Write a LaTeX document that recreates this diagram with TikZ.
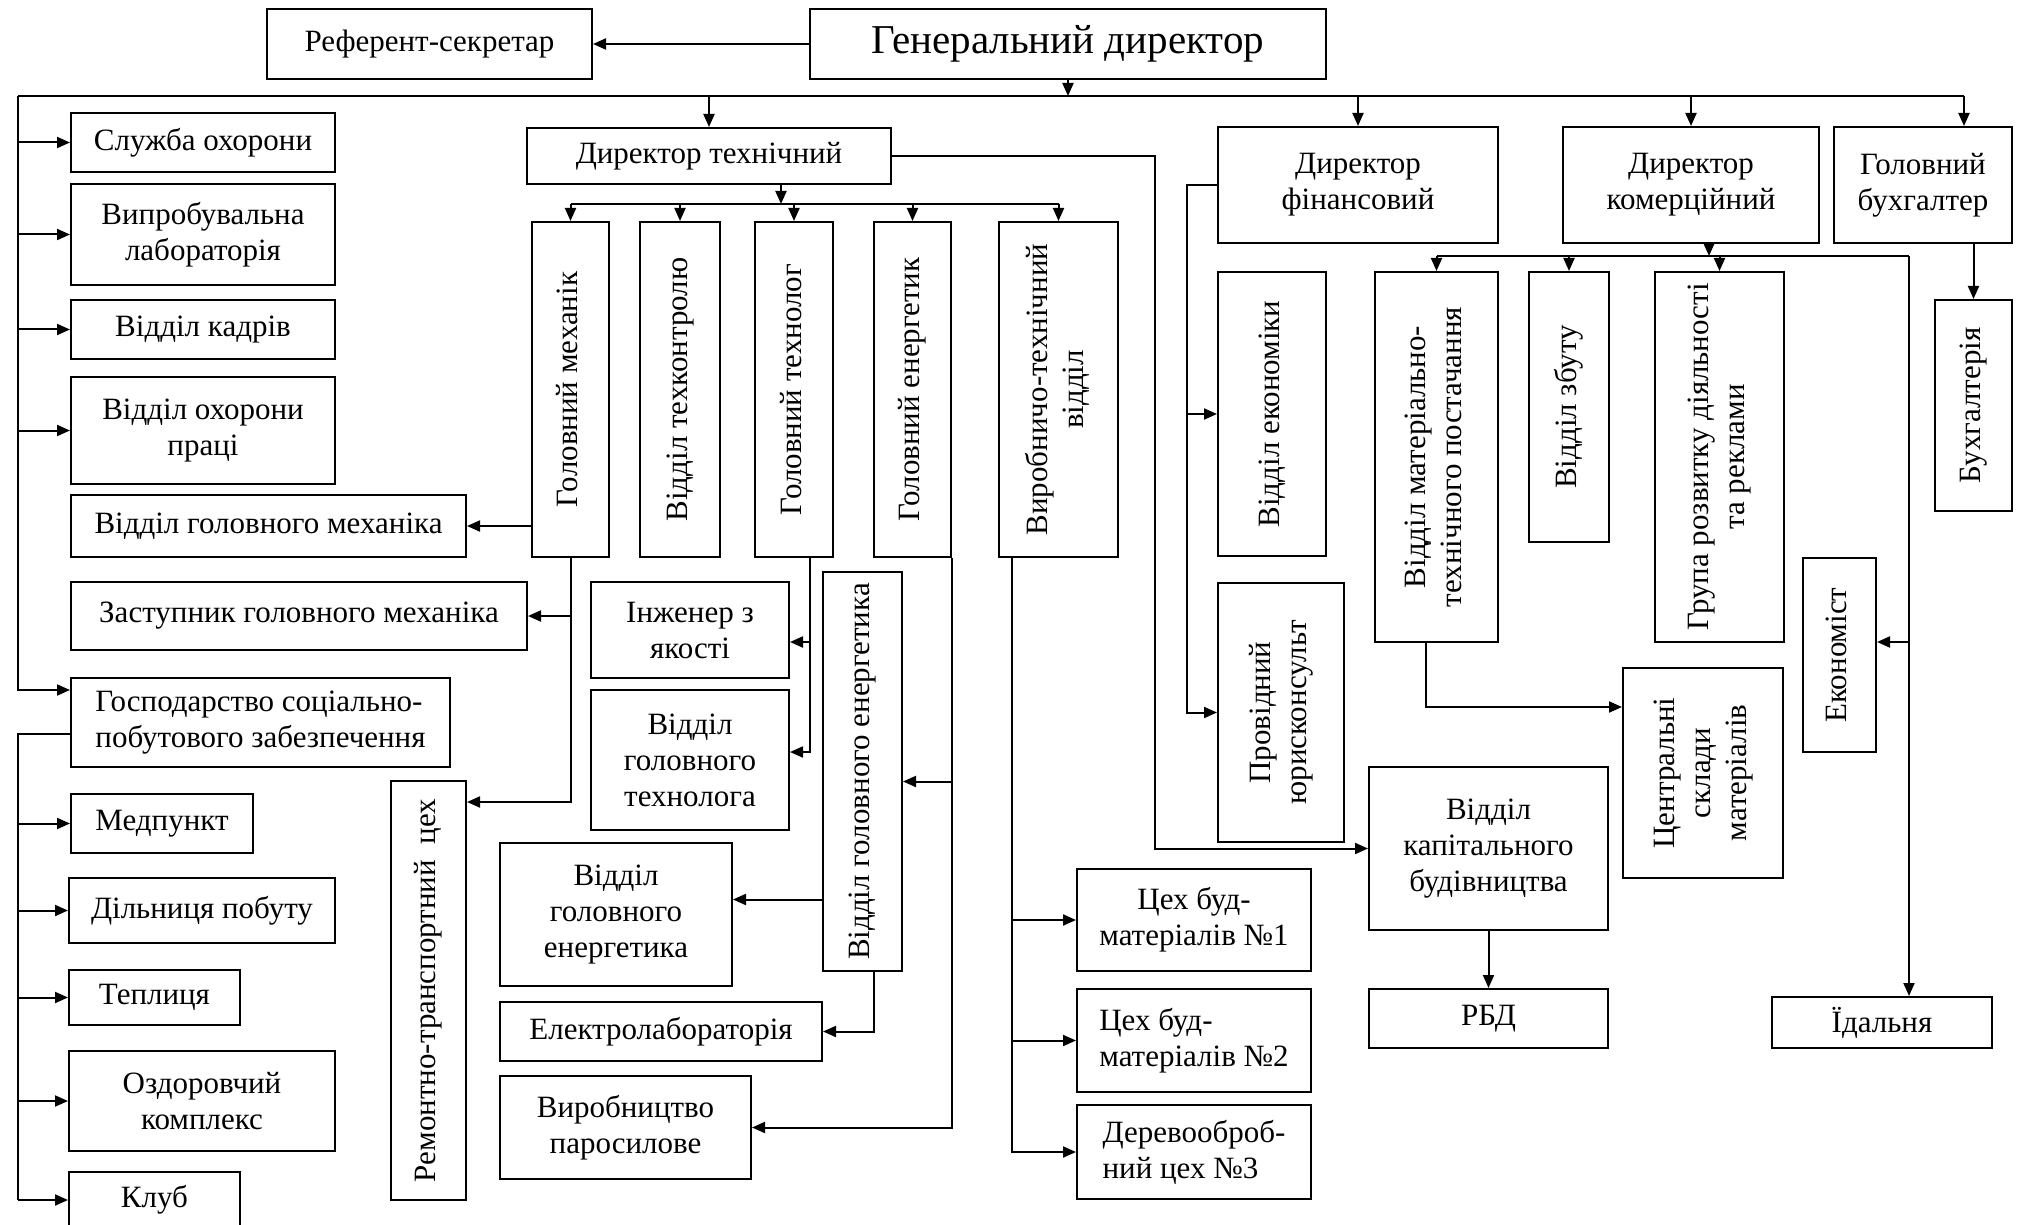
\documentclass[tikz,border=0pt]{standalone}
\usepackage{fontspec}
\setmainfont{Liberation Serif}
\usepackage{graphicx}
\usetikzlibrary{positioning,arrows.meta}

\newcommand{\uptext}[1]{\rotatebox{90}{\begin{tabular}{@{}c@{}}#1\end{tabular}}}

\begin{document}
\begin{tikzpicture}[x=0.5pt,y=-0.5pt,line width=1pt,
    box/.style={draw,inner sep=2pt,align=center,font=\fontsize{15.5}{18}\selectfont},
    >={Stealth[length=6.5pt,width=5.5pt,inset=0pt]}]
  \useasboundingbox (0,0) rectangle (2024,1225);
  \clip (0,0) rectangle (2024,1225);

  % top level
  \node[box,font=\fontsize{20.5}{24}\selectfont,minimum width=258pt,minimum height=35pt] (gd) at (1068,44) {Генеральний директор};
  \node[box,minimum width=162.5pt,minimum height=35pt] (ref) at (429.5,44) {Референт-секретар};

  % left column
  \node[box,minimum width=132pt,minimum height=29.5pt] (sec) at (203,142.5) {Служба охорони};
  \node[box,minimum width=132pt,minimum height=50.5pt] (lab) at (203,234.5) {Випробувальна\\лабораторія};
  \node[box,minimum width=132pt,minimum height=29.5pt] (kadry) at (203,329.5) {Відділ кадрів};
  \node[box,minimum width=132pt,minimum height=53.5pt] (ohpr) at (203,430.5) {Відділ охорони\\праці};
  \node[box,minimum width=197.5pt,minimum height=31pt] (vgm) at (268.5,526) {Відділ головного механіка};
  \node[box,minimum width=228pt,minimum height=34pt] (zgm) at (299,616) {Заступник головного механіка};
  \node[box,align=left,minimum width=189.5pt,minimum height=44.5pt] (gosp) at (260.5,722.5) {Господарство соціально-\\побутового забезпечення};
  \node[box,minimum width=91pt,minimum height=29.5pt] (med) at (162,823.5) {Медпункт};
  \node[box,minimum width=133pt,minimum height=32.5pt] (dp) at (202,910.5) {Дільниця побуту};
  \node[box,minimum width=85.5pt,minimum height=27.5pt] (tepl) at (154.5,997.5) {Теплиця};
  \node[box,minimum width=133pt,minimum height=50pt] (ozd) at (202,1101) {Оздоровчий\\комплекс};
  \node[box,minimum width=85.5pt,minimum height=28pt] (klub) at (154.5,1200) {Клуб};

  % technical director
  \node[box,minimum width=182pt,minimum height=28pt] (dt) at (709,156) {Директор технічний};
  \node[box,minimum width=38.5pt,minimum height=167.5pt] (gmeh) at (570.5,389.5) {\uptext{Головний механік}};
  \node[box,minimum width=40pt,minimum height=167.5pt] (tk) at (680,389.5) {\uptext{Відділ техконтролю}};
  \node[box,minimum width=39pt,minimum height=167.5pt] (gtech) at (794,389.5) {\uptext{Головний технолог}};
  \node[box,minimum width=38.5pt,minimum height=167.5pt] (gen) at (912.5,389.5) {\uptext{Головний енергетик}};
  \node[box,minimum width=59.5pt,minimum height=167.5pt] (vtv) at (1058.5,389.5) {\uptext{Виробничо-технічний\\відділ}};
  \node[box,minimum width=37.5pt,minimum height=209.5pt] (rtc) at (428.5,990.5) {\uptext{Ремонтно-транспортний~~цех}};
  \node[box,minimum width=99pt,minimum height=48pt] (inz) at (690,630) {Інженер з\\якості};
  \node[box,minimum width=99pt,minimum height=70pt] (vgt) at (690,760) {Відділ\\головного\\технолога};
  \node[box,minimum width=39.5pt,minimum height=199.5pt] (vgev) at (862.5,771.5) {\uptext{Відділ головного енергетика}};
  \node[box,minimum width=116pt,minimum height=71.5pt] (vgeh) at (616,914.5) {Відділ\\головного\\енергетика};
  \node[box,minimum width=161pt,minimum height=29.5pt] (elab) at (661,1031.5) {Електролабораторія};
  \node[box,minimum width=125.5pt,minimum height=51.5pt] (vps) at (625.5,1127.5) {Виробництво\\паросилове};
  \node[box,minimum width=117pt,minimum height=51pt] (ceh1) at (1194,920) {Цех буд-\\матеріалів №1};
  \node[box,align=left,minimum width=117pt,minimum height=51.5pt] (ceh2) at (1194,1040.5) {Цех буд-\\матеріалів №2};
  \node[box,align=left,minimum width=117pt,minimum height=47pt] (ceh3) at (1194,1152) {Деревооброб-\\ний цех №3};

  % finance director
  \node[box,minimum width=140pt,minimum height=58pt] (df) at (1358,185) {Директор\\фінансовий};
  \node[box,minimum width=54pt,minimum height=142pt] (ve) at (1272,414) {\uptext{Відділ економіки}};
  \node[box,minimum width=63pt,minimum height=129.5pt] (pju) at (1281,712.5) {\uptext{Провідний\\юрисконсульт}};

  % commercial director, accountant
  \node[box,minimum width=128pt,minimum height=58pt] (dk) at (1691,185) {Директор\\комерційний};
  \node[box,minimum width=89pt,minimum height=58pt] (gb) at (1923,185) {Головний\\бухгалтер};
  \node[box,minimum width=61.5pt,minimum height=185pt] (vmtp) at (1436.5,457) {\uptext{Відділ матеріально-\\технічного постачання}};
  \node[box,minimum width=40pt,minimum height=135pt] (vz) at (1569,407) {\uptext{Відділ збуту}};
  \node[box,minimum width=64.5pt,minimum height=185pt] (grd) at (1719.5,457) {\uptext{Група розвитку діяльності\\та реклами}};
  \node[box,minimum width=38.5pt,minimum height=105.5pt] (buh) at (1973.5,405.5) {\uptext{Бухгалтерія}};
  \node[box,minimum width=36.5pt,minimum height=97pt] (ekon) at (1839.5,655) {\uptext{Економіст}};
  \node[box,minimum width=80pt,minimum height=105pt] (csm) at (1703,773) {\uptext{Центральні\\склади\\матеріалів}};
  \node[box,minimum width=119.5pt,minimum height=81.5pt] (vkb) at (1488.5,848.5) {Відділ\\капітального\\будівництва};
  \node[box,minimum width=119.5pt,minimum height=29.5pt] (rbd) at (1488.5,1018.5) {РБД};
  \node[box,minimum width=110pt,minimum height=25.5pt] (idal) at (1882,1022.5) {Їдальня};

  % general director links
  \coordinate (busL) at (18,96);
  \coordinate (busR) at (1964,96);
  \draw[->] (gd) -- (ref);
  \draw (busL) -- (busR);
  \draw[->] (gd.south) -- (gd.south |- busL);
  \foreach \n in {dt,df,dk} \draw[->] (\n.north |- busL) -- (\n.north);
  \draw[->] (busR) -- (busR |- gb.north);

  % left spine
  \coordinate (gospin) at ([yshift=-6.5pt]gosp.north west);
  \coordinate (gospout) at ([yshift=-5.75pt]gosp.west);
  \draw[->] (busL) |- (gospin);
  \foreach \n in {sec,lab,kadry,ohpr} \draw[->] (busL |- \n.west) -- (\n.west);
  \draw (gospout) -| (busL |- klub.west);
  \foreach \n in {med,dp,tepl,ozd,klub} \draw[->] (busL |- \n.west) -- (\n.west);

  % technical director links
  \coordinate (tbus) at (781,204);
  \draw[->] (tbus |- dt.south) -- (tbus);
  \draw (gmeh.north |- tbus) -- (vtv.north |- tbus);
  \foreach \n in {gmeh,tk,gtech,gen,vtv} \draw[->] (\n.north |- tbus) -- (\n.north);
  \draw[->] (dt.east) -- ++(263,0) |- (vkb.west);

  % chief mechanic
  \coordinate (rtcin) at ([yshift=-11pt]rtc.north east);
  \draw[->] (gmeh.south) |- (rtcin);
  \draw[->] (gmeh.south |- zgm.east) -- (zgm.east);
  \draw[->] (gmeh.west |- vgm.east) -- (vgm.east);

  % chief technologist
  \coordinate (techout) at ([xshift=8pt]gtech.south);
  \coordinate (inzin) at ([yshift=-6pt]inz.east);
  \coordinate (vgtin) at ([yshift=4pt]vgt.east);
  \draw[->] (techout) |- (vgtin);
  \draw[->] (techout |- inzin) -- (inzin);

  % chief power engineer
  \coordinate (vgevin) at ([yshift=-5pt]vgev.east);
  \coordinate (vgehin) at ([yshift=7.5pt]vgeh.east);
  \draw[->] (gen.south east) |- (vps.east);
  \draw[->] (gen.south east |- vgevin) -- (vgevin);
  \draw[->] (vgev.west |- vgehin) -- (vgehin);
  \draw[->] ([xshift=5.75pt]vgev.south) |- (elab.east);

  % production department
  \coordinate (vtvout) at ([xshift=7pt]vtv.south west);
  \draw[->] (vtvout) |- (ceh3.west);
  \foreach \n in {ceh1,ceh2} \draw[->] (vtvout |- \n.west) -- (\n.west);

  % finance director links
  \coordinate (dfl) at (1187,185);
  \draw[->] (df.west) -- (dfl) |- (pju.west);
  \draw[->] (dfl |- ve.west) -- (ve.west);

  % commercial director links
  \coordinate (cbus) at (1709,256);
  \coordinate (cbusR) at (1909,256);
  \coordinate (ekonin) at ([yshift=6.5pt]ekon.east);
  \coordinate (csmin) at ([yshift=-20pt]csm.north west);
  \draw[->] (cbus |- dk.south) -- (cbus);
  \draw (vmtp.north |- cbus) -- (cbusR);
  \foreach \n in {vmtp,vz,grd} \draw[->] (\n.north |- cbus) -- (\n.north);
  \draw[->] (cbusR) -- (cbusR |- idal.north);
  \draw[->] (cbusR |- ekonin) -- (ekonin);
  \draw[->] ([xshift=-5.25pt]vmtp.south) |- (csmin);
  \draw[->] (gb.south -| buh.north) -- (buh.north);
  \draw[->] (vkb.south) -- (rbd.north);
\end{tikzpicture}
\end{document}
